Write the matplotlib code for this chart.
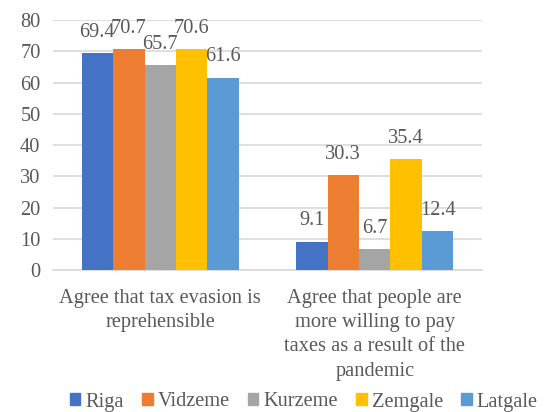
import matplotlib
matplotlib.use("Agg")
import matplotlib.pyplot as plt
import numpy as np
from matplotlib.patches import Patch

categories = ["Agree that tax evasion is\nreprehensible",
              "Agree that people are\nmore willing to pay\ntaxes as a result of the\npandemic"]
series_names = ["Riga", "Vidzeme", "Kurzeme", "Zemgale", "Latgale"]
riga = [69.4, 9.1]
vidzeme = [70.7, 30.3]
kurzeme = [65.7, 6.7]
zemgale = [70.6, 35.4]
latgale = [61.6, 12.4]
colors = ["#4472C4", "#ED7D31", "#A5A5A5", "#FFC000", "#5B9BD5"]
yticks = [0, 10, 20, 30, 40, 50, 60, 70, 80]

series = [riga, vidzeme, kurzeme, zemgale, latgale]
txt = "#595959"
fs = 14.7
plt.rcParams['font.family'] = ['Liberation Serif', 'DejaVu Serif']

fig = plt.figure(figsize=(5.45, 4.12), dpi=100)
ax = fig.add_axes([53/545, 1-270/412, 429/545, 250/412])

x = np.arange(len(categories))
bw = 0.733 / 5
for i, (name, vals) in enumerate(zip(series_names, series)):
    pos = x + (i - 2) * bw
    bars = ax.bar(pos, vals, bw, color=colors[i], label=name, zorder=3)
    for b, v in zip(bars, vals):
        ax.annotate(f"{v:.1f}", (b.get_x() + b.get_width()/2, v),
                    xytext=(0, 8), textcoords="offset points",
                    ha="center", va="bottom", fontsize=fs, color=txt)

ax.set_xlim(-0.5, 1.5)
ax.set_ylim(0, 80)
ax.set_yticks(yticks)
ax.set_yticklabels([str(t) for t in yticks], fontsize=fs, color=txt)
ax.set_xticks(x)
ax.set_xticklabels(categories, fontsize=fs, color=txt, linespacing=1.38, va="top")
ax.tick_params(axis="both", length=0)
ax.tick_params(axis="x", pad=13.5)
ax.tick_params(axis="y", pad=9)
ax.grid(axis="y", color="#D9D9D9", linewidth=1.2, zorder=0)
for s in ["top", "right", "left"]:
    ax.spines[s].set_visible(False)
ax.spines["bottom"].set_color("#D9D9D9")
ax.spines["bottom"].set_linewidth(1.2)

handles = [Patch(color=c) for c in colors]
leg = fig.legend(handles, series_names, loc="center", bbox_to_anchor=(304/545, 1-402/412),
                 ncol=5, frameon=False, fontsize=fs, handlelength=0.5, handleheight=0.5,
                 handletextpad=0.25, columnspacing=0.9, borderaxespad=0)
for t in leg.get_texts():
    t.set_color(txt)

fig.savefig("out.png", dpi=100)
